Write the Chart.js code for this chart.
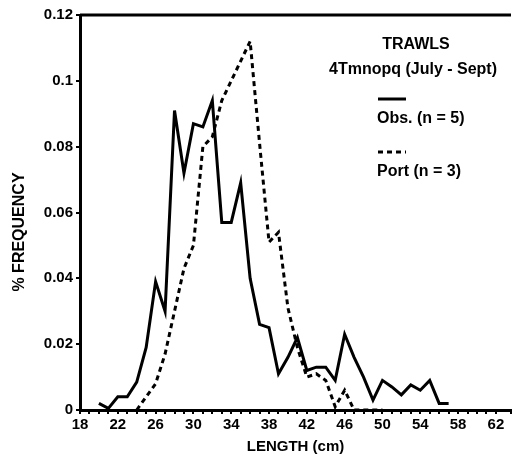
<!DOCTYPE html>
<html>
<head>
<meta charset="utf-8">
<script src="https://cdn.jsdelivr.net/npm/chart.js@4.4.0/dist/chart.umd.min.js"></script>
<style>
  body { margin: 0; background: #fff; }
  canvas { display: block; }
</style>
</head>
<body>
<canvas id="lengthChart" width="513" height="460"></canvas>
<script>
// length classes (cm) and frequencies
var obsLength = [20, 21, 22, 23, 24, 25, 26, 27, 28, 29, 30, 31, 32, 33, 34, 35, 36, 37, 38,
                 39, 40, 41, 42, 43, 44, 45, 46, 47, 48, 49, 50, 51, 52, 53, 54, 55, 56, 57];
var obsFreq = [0.002, 0.0005, 0.004, 0.004, 0.0085, 0.019, 0.039, 0.030, 0.091, 0.072, 0.087,
               0.086, 0.094, 0.057, 0.057, 0.069, 0.040, 0.026, 0.025, 0.011, 0.016, 0.022,
               0.012, 0.013, 0.013, 0.009, 0.023, 0.016, 0.010, 0.003, 0.009, 0.007, 0.0046,
               0.0076, 0.006, 0.009, 0.002, 0.002];

var portLength = [24, 25, 26, 27, 28, 29, 30, 31, 32, 33, 34, 35, 36, 37,
                  38, 39, 40, 41, 42, 43, 44, 45, 46, 47, 48, 49, 50];
var portFreq = [0.000, 0.004, 0.008, 0.017, 0.030, 0.043, 0.050, 0.080, 0.083, 0.094, 0.100,
                0.106, 0.112, 0.081, 0.051, 0.054, 0.031, 0.019, 0.010, 0.011, 0.009, 0.001,
                0.006, 0.000, 0.000, 0.000, 0.000];

var xTickLabels = [18, 22, 26, 30, 34, 38, 42, 46, 50, 54, 58, 62];
var yTickLabels = ['0', '0.02', '0.04', '0.06', '0.08', '0.1', '0.12'];

var legendTitle = ['TRAWLS', '4Tmnopq (July - Sept)'];
var seriesNames = ['Obs. (n = 5)', 'Port (n = 3)'];

var FONT = "'Liberation Sans', Arial, sans-serif";

function toPoints(xs, ys) {
  var pts = [];
  for (var i in xs) {
    pts.push({ x: xs[i], y: ys[i] });
  }
  return pts;
}

var decorations = {
  id: 'decorations',
  afterDraw: function(chart) {
    var ctx = chart.ctx;
    var area = chart.chartArea;
    ctx.save();
    // top frame line
    ctx.strokeStyle = '#000';
    ctx.lineWidth = 3;
    ctx.beginPath();
    ctx.moveTo(area.left, area.top);
    ctx.lineTo(area.right, area.top);
    ctx.stroke();

    ctx.fillStyle = '#000';
    ctx.textAlign = 'center';
    ctx.textBaseline = 'middle';
    ctx.font = 'bold 16px ' + FONT;
    ctx.fillText(legendTitle[0], 416, 45);
    ctx.fillText(legendTitle[1], 413, 70);

    ctx.textAlign = 'left';
    ctx.fillText(seriesNames[0], 377, 119);
    ctx.fillText(seriesNames[1], 377, 172);

    ctx.lineWidth = 3;
    ctx.beginPath();
    ctx.moveTo(378, 99);
    ctx.lineTo(406, 99);
    ctx.stroke();
    ctx.setLineDash([5, 4]);
    ctx.beginPath();
    ctx.moveTo(378, 152);
    ctx.lineTo(406, 152);
    ctx.stroke();
    ctx.setLineDash([]);

    // y axis title
    ctx.translate(20, 232);
    ctx.rotate(-Math.PI / 2);
    ctx.textAlign = 'center';
    ctx.fillText('% FREQUENCY', 0, 0);
    ctx.restore();
  }
};

var ctx = document.getElementById('lengthChart');

var lengthChart = new Chart(ctx, {
  type: 'line',
  data: {
    datasets: [
      {
        label: seriesNames[0],
        data: toPoints(obsLength, obsFreq),
        borderColor: '#000',
        borderWidth: 3,
        pointRadius: 0,
        tension: 0,
        fill: false
      },
      {
        label: seriesNames[1],
        data: toPoints(portLength, portFreq),
        borderColor: '#000',
        borderWidth: 3,
        borderDash: [5, 4],
        pointRadius: 0,
        tension: 0,
        fill: false
      }
    ]
  },
  options: {
    responsive: false,
    animation: false,
    devicePixelRatio: 1,
    layout: { padding: { top: 15, right: 0, left: 0, bottom: 0 } },
    plugins: {
      legend: { display: false },
      tooltip: { enabled: false }
    },
    scales: {
      x: {
        type: 'linear',
        min: 18,
        max: 63.6,
        afterFit: function(scale) { scale.height = 50; },
        ticks: {
          stepSize: 1,
          autoSkip: false,
          maxRotation: 0,
          color: '#000',
          padding: 2,
          font: { family: FONT, size: 15, weight: 'bold' },
          callback: function(value) {
            return xTickLabels.indexOf(value) >= 0 ? String(value) : '';
          }
        },
        grid: { drawOnChartArea: false, tickLength: 4, color: '#000', lineWidth: 2 },
        border: { color: '#000', width: 3 },
        title: {
          display: true,
          text: 'LENGTH (cm)',
          color: '#000',
          font: { family: FONT, size: 15, weight: 'bold' },
          padding: { top: 0, bottom: 4 }
        }
      },
      y: {
        min: 0,
        max: 0.12,
        afterFit: function(scale) { scale.width = 80; },
        ticks: {
          stepSize: 0.02,
          color: '#000',
          padding: 3,
          font: { family: FONT, size: 15, weight: 'bold' },
          callback: function(value) {
            var i = Math.round(value / 0.02);
            return yTickLabels[i];
          }
        },
        grid: { drawOnChartArea: false, tickLength: 4, color: '#000', lineWidth: 2 },
        border: { color: '#000', width: 3 }
      }
    }
  },
  plugins: [decorations]
});
</script>
</body>
</html>
